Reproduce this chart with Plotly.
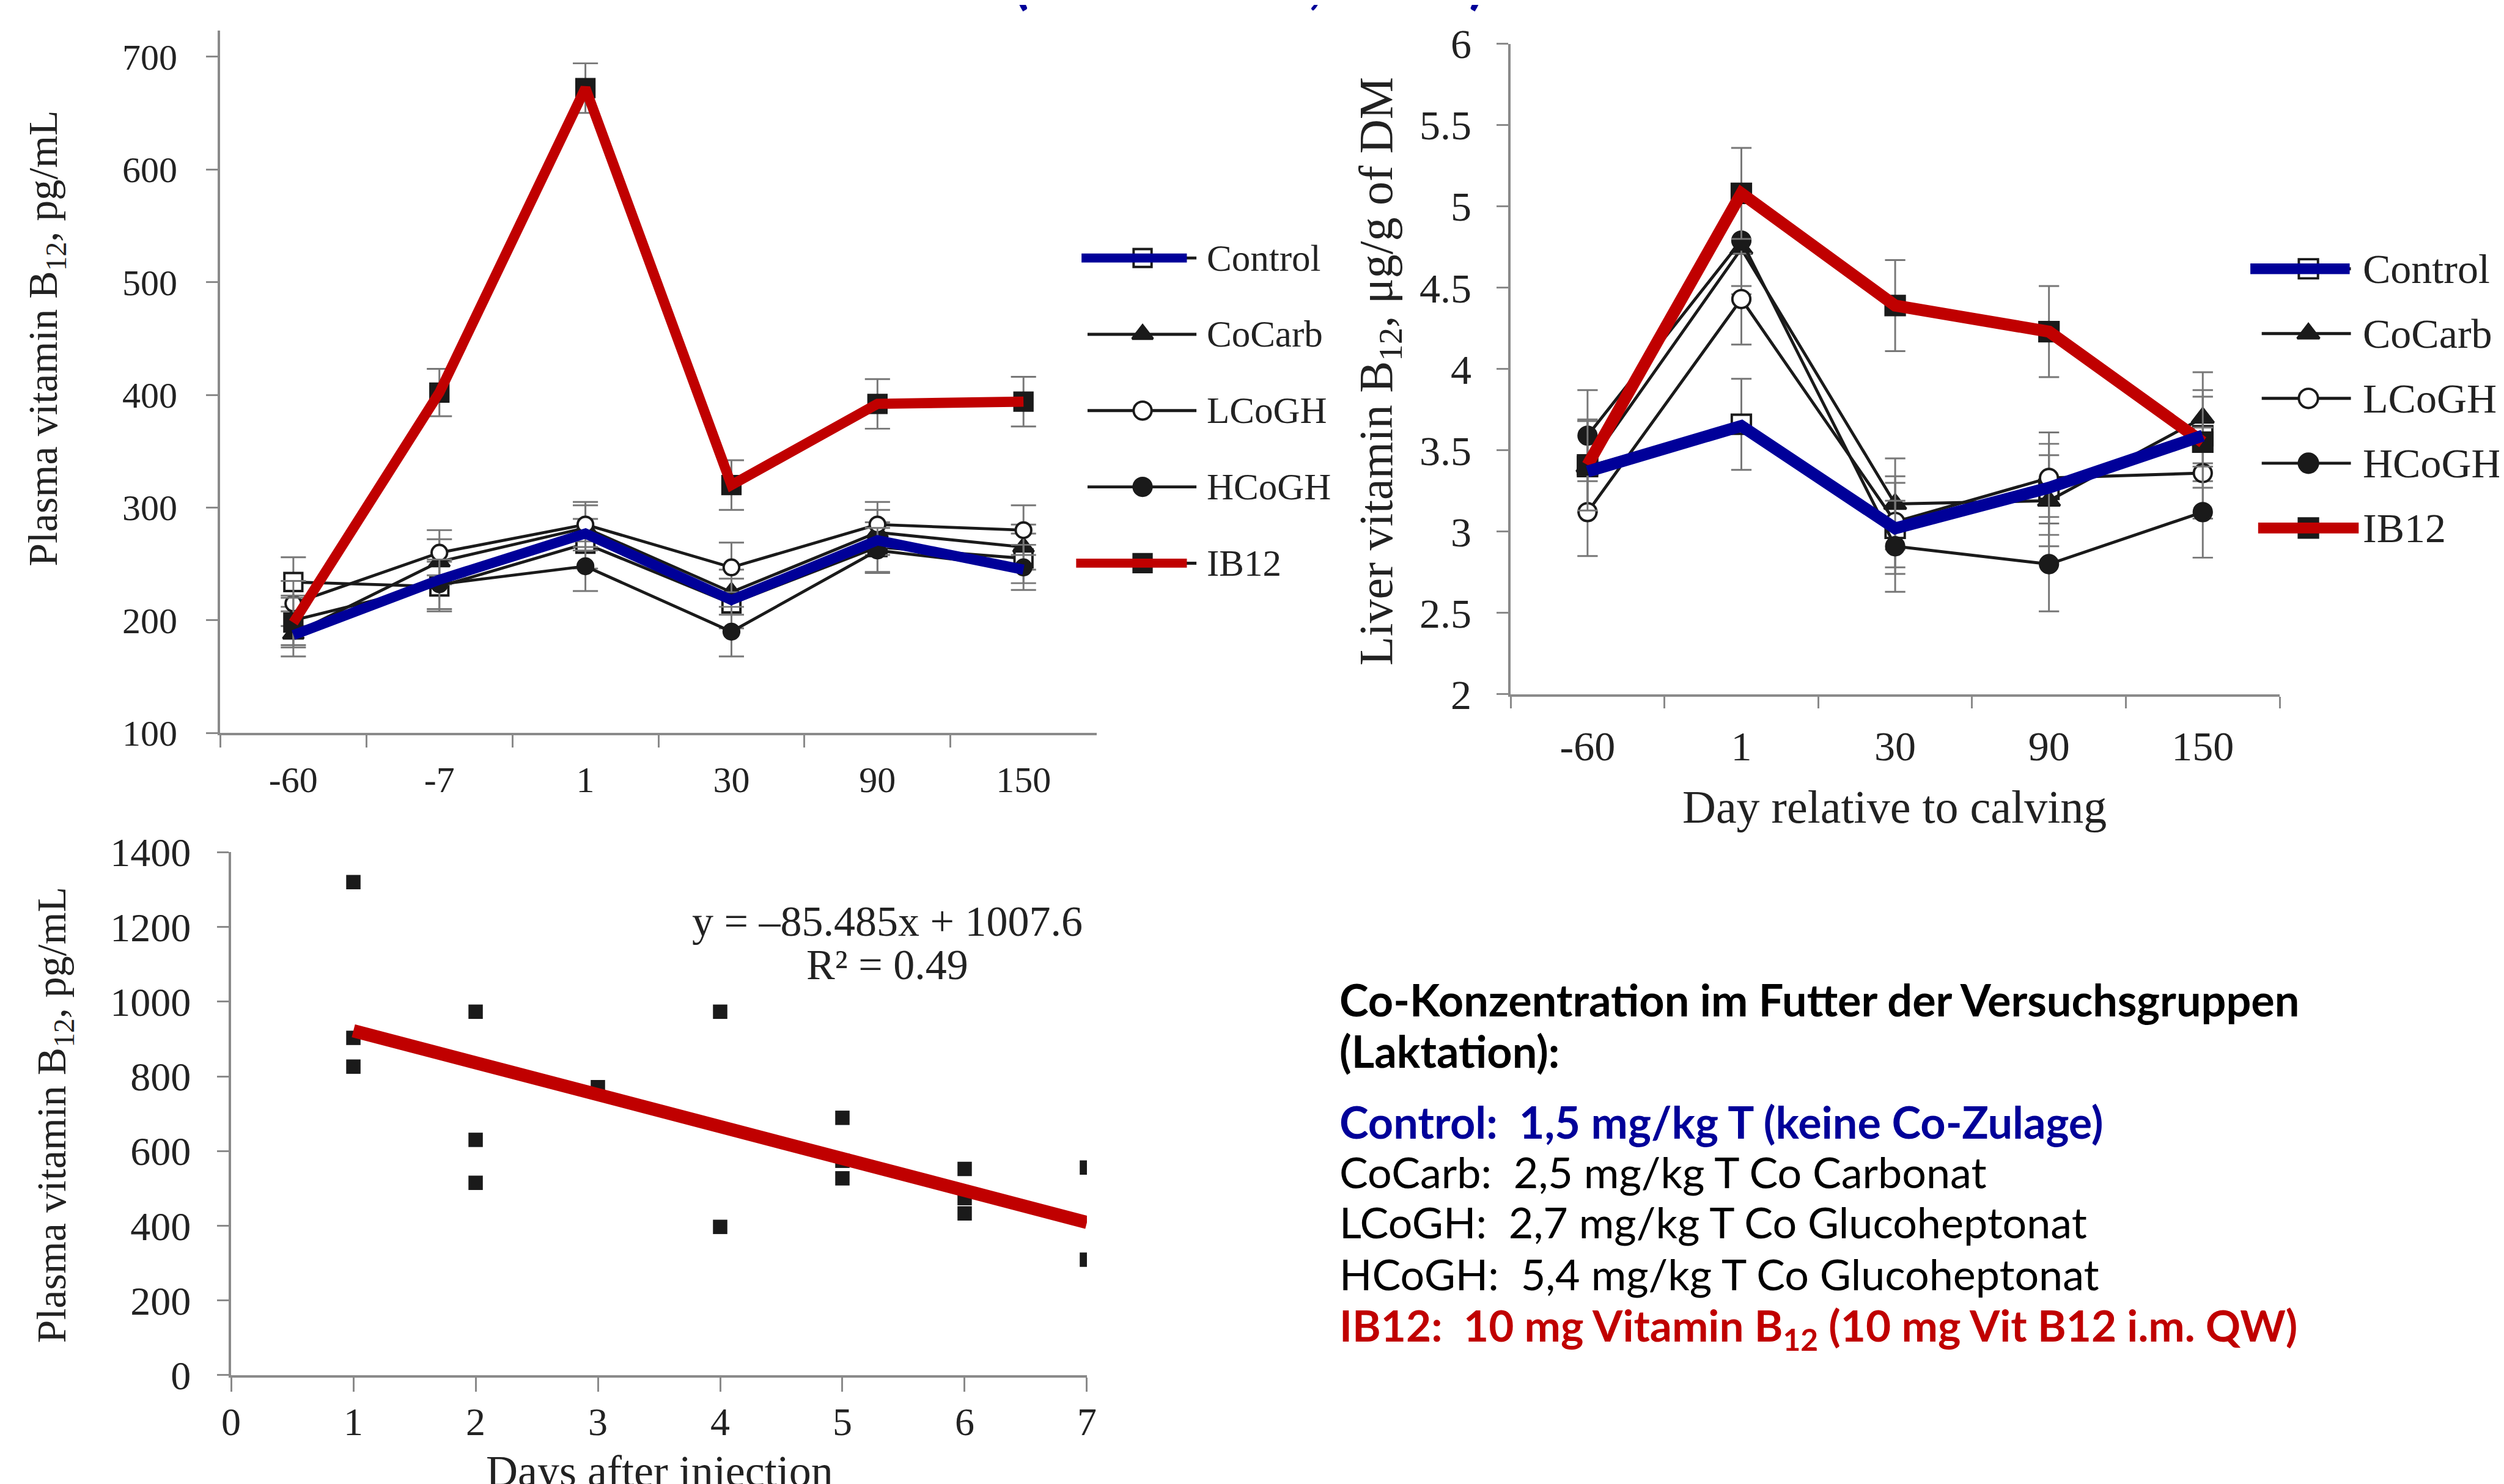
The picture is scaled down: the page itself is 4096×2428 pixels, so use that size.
import plotly.graph_objects as go

W, H = 4096, 2428
RW, RH = 4184, 2480
S = W / RW

def fx(x):
    return x / RW

def fy(y):
    return 1 - y / RH

# ---------------- data ----------------
plasma_days = ["-60", "-7", "1", "30", "90", "150"]
plasma_control = [234, 230, 268, 215, 265, 255]
plasma_cocarb = [188, 252, 282, 225, 278, 265]
plasma_lcogh = [215, 260, 285, 247, 285, 280]
plasma_hcogh = [200, 232, 248, 190, 262, 247]
plasma_ib12 = [198, 402, 672, 320, 392, 394]
plasma_control_highlight = [187, 236, 277, 218, 271, 245]
plasma_err_control = [22, 22, 22, 22, 22, 22]
plasma_err_cocarb = [20, 20, 20, 20, 20, 20]
plasma_err_lcogh = [20, 20, 20, 22, 20, 22]
plasma_err_hcogh = [22, 22, 22, 22, 20, 20]
plasma_err_ib12 = [22, 21, 22, 22, 22, 22]

liver_days = ["-60", "1", "30", "90", "150"]
liver_control = [3.40, 3.66, 3.02, 3.26, 3.59]
liver_cocarb = [3.40, 4.74, 3.17, 3.19, 3.70]
liver_lcogh = [3.12, 4.43, 3.06, 3.33, 3.36]
liver_hcogh = [3.59, 4.79, 2.91, 2.80, 3.12]
liver_ib12 = [3.41, 5.08, 4.39, 4.23, 3.55]
liver_control_highlight = [3.37, 3.65, 3.02, 3.27, 3.59]
liver_err_control = [0.28, 0.28, 0.28, 0.28, 0.28]
liver_err_cocarb = [0.28, 0.28, 0.28, 0.28, 0.28]
liver_err_lcogh = [0.27, 0.28, 0.28, 0.28, 0.28]
liver_err_hcogh = [0.28, 0.28, 0.28, 0.29, 0.28]
liver_err_ib12 = [0.28, 0.28, 0.28, 0.28, 0.28]

inj_days = [1, 1, 1, 2, 2, 2, 3, 4, 4, 5, 5, 5, 6, 6, 6, 7, 7]
inj_b12 = [1320, 903, 826, 973, 630, 515, 771, 973, 397, 689, 574, 527, 552, 474, 433, 556, 309]
trend_days = [1, 7]
trend_b12 = [922, 409]
trend_label = ["y = \u201385.485x + 1007.6", "R\u00b2 = 0.49"]

group_names = ["Control", "CoCarb", "LCoGH", "HCoGH", "IB12"]
group_symbols = ["square", "triangle-up", "circle", "circle", "square"]
group_fill = ["white", "#1a1a1a", "white", "#1a1a1a", "#1a1a1a"]

info_lines = [
    ("<b>Co-Konzentration im Futter der Versuchsgruppen</b>", "#000000", 72),
    ("<b>(Laktation):</b>", "#000000", 72),
    ("<b>Control:\u00a0\u00a01,5 mg/kg T (keine Co-Zulage)</b>", "#000099", 72),
    ("CoCarb:\u00a0\u00a02,5 mg/kg T Co Carbonat", "#000000", 70),
    ("LCoGH:\u00a0\u00a02,7 mg/kg T Co Glucoheptonat", "#000000", 70),
    ("HCoGH:\u00a0\u00a05,4 mg/kg T Co Glucoheptonat", "#000000", 70),
    ("<b>IB12:\u00a0\u00a010 mg Vitamin B<sub>12</sub> (10 mg Vit B12 i.m. QW)</b>", "#C00000", 71),
]

BLUE = "#000099"
RED = "#C00000"
BLACK = "#1a1a1a"
AXC = "#8a8a8a"
ERC = "#777777"
SERIF = "Liberation Serif"
SANS = "Lato"

fig = go.Figure()

# ---------------- plasma chart ----------------
plasma_series = [plasma_control, plasma_cocarb, plasma_lcogh, plasma_hcogh, plasma_ib12]
plasma_errs = [plasma_err_control, plasma_err_cocarb, plasma_err_lcogh, plasma_err_hcogh, plasma_err_ib12]
for i, name in enumerate(group_names):
    fig.add_trace(go.Scatter(
        x=plasma_days, y=plasma_series[i], mode="lines+markers", name=name,
        xaxis="x", yaxis="y", showlegend=False,
        line=dict(color=BLACK, width=5 * S),
        marker=dict(symbol=group_symbols[i], size=(30 if group_symbols[i] != "circle" else 26) * S,
                    color=group_fill[i], line=dict(color=BLACK, width=4 * S)),
        error_y=dict(type="data", array=plasma_errs[i], color=ERC, thickness=3 * S, width=21 * S),
    ))
fig.add_trace(go.Scatter(x=plasma_days, y=plasma_ib12, mode="lines", xaxis="x", yaxis="y",
                         showlegend=False, line=dict(color=RED, width=17 * S)))
fig.add_trace(go.Scatter(x=plasma_days, y=plasma_control_highlight, mode="lines", xaxis="x", yaxis="y",
                         showlegend=False, line=dict(color=BLUE, width=17 * S)))

# ---------------- liver chart ----------------
liver_series = [liver_control, liver_cocarb, liver_lcogh, liver_hcogh, liver_ib12]
liver_errs = [liver_err_control, liver_err_cocarb, liver_err_lcogh, liver_err_hcogh, liver_err_ib12]
for i, name in enumerate(group_names):
    fig.add_trace(go.Scatter(
        x=liver_days, y=liver_series[i], mode="lines+markers", name=name,
        xaxis="x2", yaxis="y2", showlegend=False,
        line=dict(color=BLACK, width=5 * S),
        marker=dict(symbol=group_symbols[i], size=(32 if group_symbols[i] != "circle" else 30) * S,
                    color=group_fill[i], line=dict(color=BLACK, width=4 * S)),
        error_y=dict(type="data", array=liver_errs[i], color=ERC, thickness=3 * S, width=17 * S),
    ))
fig.add_trace(go.Scatter(x=liver_days, y=liver_ib12, mode="lines", xaxis="x2", yaxis="y2",
                         showlegend=False, line=dict(color=RED, width=20 * S)))
fig.add_trace(go.Scatter(x=liver_days, y=liver_control_highlight, mode="lines", xaxis="x2", yaxis="y2",
                         showlegend=False, line=dict(color=BLUE, width=20 * S)))

# ---------------- injection scatter ----------------
fig.add_trace(go.Scatter(x=inj_days, y=inj_b12, mode="markers", xaxis="x3", yaxis="y3", showlegend=False,
                         marker=dict(symbol="square", size=24 * S, color=BLACK)))
fig.add_trace(go.Scatter(x=trend_days, y=trend_b12, mode="lines", xaxis="x3", yaxis="y3", showlegend=False,
                         line=dict(color=RED, width=22 * S)))

# ---------------- hand-drawn legends (overlay axis in reference pixels) ----------------
def legend_block(x_line0, x_line1, x_mark, x_text, y0, dy, msize, fsize, blue_x, red_x, lw):
    for i, name in enumerate(group_names):
        yy = y0 + i * dy
        fig.add_trace(go.Scatter(
            x=[x_line0, x_line1], y=[yy, yy], mode="lines", xaxis="x4", yaxis="y4",
            showlegend=False, line=dict(color=BLACK, width=5 * S),
        ))
        fig.add_trace(go.Scatter(
            x=[x_mark], y=[yy], mode="markers", xaxis="x4", yaxis="y4", showlegend=False,
            marker=dict(symbol=group_symbols[i], size=msize * S, color=group_fill[i],
                        line=dict(color=BLACK, width=4 * S)),
        ))
        if name == "Control":
            fig.add_trace(go.Scatter(x=blue_x, y=[yy, yy], mode="lines", xaxis="x4", yaxis="y4",
                                     showlegend=False, line=dict(color=BLUE, width=lw * S)))
        if name == "IB12":
            fig.add_trace(go.Scatter(x=red_x, y=[yy, yy], mode="lines", xaxis="x4", yaxis="y4",
                                     showlegend=False, line=dict(color=RED, width=lw * S)))
        fig.add_annotation(x=fx(x_text), y=fy(yy), xref="paper", yref="paper", text=name,
                           showarrow=False, xanchor="left", yanchor="middle",
                           font=dict(family=SERIF, size=fsize, color="#222222"))

legend_block(1809, 1991, 1901, 2006, 423, 127.5, 30, 61, [1799, 1975], [1790, 1975], 15)
legend_block(3771, 3920, 3849, 3938, 441, 108.3, 32, 68, [3752, 3918], [3765, 3933], 18)

# ---------------- axes ----------------
axis_common = dict(showline=True, linecolor=AXC, linewidth=4 * S, ticks="outside", tickcolor=AXC,
                   tickwidth=3.5 * S, showgrid=False, zeroline=False, automargin=False)

fig.update_layout(
    width=W, height=H, margin=dict(l=0, r=0, t=0, b=0),
    paper_bgcolor="white", plot_bgcolor="rgba(0,0,0,0)",
    xaxis=dict(domain=[fx(360), fx(1824)], anchor="y", type="category", categoryorder="array",
               categoryarray=plasma_days, range=[-0.5, 5.5], tickson="boundaries", ticklen=20 * S,
               ticklabelstandoff=int(22 * S), tickfont=dict(family=SERIF, size=60, color="#222222"),
               **axis_common),
    yaxis=dict(domain=[fy(1217), fy(43)], anchor="x", range=[100, 723], tick0=100, dtick=100,
               ticklen=20 * S, ticklabelstandoff=int(36 * S),
               tickfont=dict(family=SERIF, size=60, color="#222222"), **axis_common),
    xaxis2=dict(domain=[fx(2516), fx(3801)], anchor="y2", type="category", categoryorder="array",
                categoryarray=liver_days, range=[-0.5, 4.5], tickson="boundaries", ticklen=20 * S,
                ticklabelstandoff=int(24 * S), tickfont=dict(family=SERIF, size=68, color="#222222"),
                **axis_common),
    yaxis2=dict(domain=[fy(1152), fy(65)], anchor="x2", range=[2, 6], tick0=2, dtick=0.5,
                ticklen=20 * S, ticklabelstandoff=int(28 * S),
                tickfont=dict(family=SERIF, size=68, color="#222222"), **axis_common),
    xaxis3=dict(domain=[fx(378), fx(1808)], anchor="y3", range=[0, 7], tick0=0, dtick=1,
                ticklen=24 * S, ticklabelstandoff=-6,
                tickfont=dict(family=SERIF, size=64, color="#222222"), **axis_common),
    yaxis3=dict(domain=[fy(2290), fy(1416)], anchor="x3", range=[0, 1400], tick0=0, dtick=200,
                ticklen=20 * S, ticklabelstandoff=int(30 * S),
                tickfont=dict(family=SERIF, size=66, color="#222222"), **axis_common),
    xaxis4=dict(domain=[0, 1], anchor="y4", range=[0, RW], visible=False, fixedrange=True),
    yaxis4=dict(domain=[0, 1], anchor="x4", range=[RH, 0], visible=False, fixedrange=True),
    showlegend=False,
)

# ---------------- titles and texts ----------------
def ann(x, y, text, size, family=SERIF, color="#222222", angle=0, xanchor="center", yanchor="middle"):
    fig.add_annotation(x=fx(x), y=fy(y), xref="paper", yref="paper", text=text, showarrow=False,
                       textangle=angle, xanchor=xanchor, yanchor=yanchor,
                       font=dict(family=family, size=size, color=color))

ann(68, 558, "Plasma vitamin B<sub>12</sub>, pg/mL", 68, angle=-90)
ann(2296, 612, "Liver vitamin B<sub>12</sub>, \u03bcg/g of DM", 78, angle=-90)
ann(3157, 1340, "Day relative to calving", 76)
ann(82, 1855, "Plasma vitamin B<sub>12</sub>, pg/mL", 68, angle=-90)
ann(1094, 2450, "Days after injection", 72)
ann(1475, 1532, trend_label[0], 70)
ann(1475, 1604, trend_label[1], 70)

info_y = [1662, 1748, 1866, 1950, 2034, 2120, 2211]
for (txt, col, fs), yy in zip(info_lines, info_y):
    ann(2228, yy, txt, fs, family=SANS, color=col, xanchor="left")

# clipped heading at the very top edge (only the descenders show, as in the source image)
ann(1682, 18, "<b>(Akins et al., 2013)</b>", 94, family=SANS, color=BLUE, xanchor="left", yanchor="bottom")

fig.write_html("out.html")
